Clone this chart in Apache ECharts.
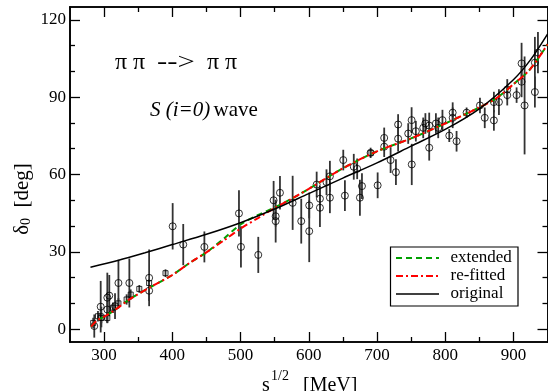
<!DOCTYPE html>
<html><head><meta charset="utf-8">
<script src="https://cdn.jsdelivr.net/npm/echarts@6/dist/echarts.min.js"></script>
<style>html,body{margin:0;padding:0;background:#fff}#c{width:548px;height:391px}</style>
</head><body><div id="c"></div>
<script>
// ---- tick values ----
const xMajorTicks = [300,400,500,600,700,800,900];
const xMinorTicks = [350,450,550,650,750,850];
const yMajorTicks = [0,30,60,90,120];
const yMinorTicks = [10,20,40,50,70,80,100,110];

// ---- curves ----
const origX = [280,320,360,400,450,500,550,600,650,700,750,800,850,900,925,950];
const origY = [24.0,26.6,29.6,32.8,36.8,41.3,46.6,52.6,58.6,64.5,71.0,77.5,85.5,96.8,104.5,114.5];
const refitX = [281,290,300,315,340,370,400,425,450,475,500,525,550,575,600,650,700,750,800,850,875,900,925,950];
const refitY = [1.0,3.4,4.8,7.3,12.0,16.6,21.0,25.6,29.8,34.3,39.0,43.0,47.0,50.6,54.4,62.4,69.0,74.0,79.8,86.0,89.6,95.0,101.0,110.5];
const extX = [281,290,300,315,340,370,400,425,450,475,500,525,550,575,600,650,700,750,800,850,875,900,925,950];
const extY = [1.0,3.4,4.8,7.3,12.0,16.6,21.0,25.6,29.8,35.0,40.6,44.2,47.2,50.6,54.4,62.4,69.0,74.0,79.8,86.0,89.6,95.0,101.0,110.5];

// ---- data points (circles) ----
const circX = [285.6,295,296,304.7,304.7,307.6,316,321,337,366,366,400.5,416,447,497.7,500.6,526,548.5,551.5,551.5,557.8,576.4,589,600.7,600.7,611.6,616.4,616.4,626,631,631,650.6,653,666,671,675,678,690.7,701,710.6,710.6,720,727.8,731,731,745.8,750.8,751,757,767.8,771,776.6,776.6,786.4,789.8,796,806,811,811,816.7,831.4,851,858,871.4,871.4,878.8,891,891,904.7,912,912,916.4,931.5,931.5,936];
const circY = [1.2,8.7,4.7,12.2,7.6,13.0,8.9,17.9,17.9,19.9,14.9,39.9,32.8,31.9,44.9,31.9,28.8,50.0,43.8,41.9,52.9,49.0,41.9,48.0,38.0,56.1,50.6,47.1,57.0,59.3,51.0,65.6,51.8,63.0,62.2,51.0,55.5,68.4,55.8,74.2,70.8,65.6,60.9,79.4,73.9,75.9,81.1,63.9,76.8,78.1,79.8,79.0,70.4,79.8,78.1,81.1,75.1,84.0,82.0,72.9,84.0,86.8,82.0,88.1,81.0,88.1,93.0,90.8,90.8,103.1,96.0,86.8,103.4,92.0,107.3];
const circErr = [4.5,10,4,9.7,5,8,5,9,9.5,11,4,9,8,6,9,8,7,7.5,4,8.3,6.5,10.5,8.7,5,12,5,5,7.5,5,6,6,4,6,5,4,7,5,2,5,4,4,5,5,4,5,4,5,8,4,4,4,5,5,4,4,4,2.5,4,4,4,2,3,4,4,4,5,4,4,3,8,6,19,10,6,8];

// ---- data points (squares) ----
const sqX = [284,291,296,304.7,313,321,333,339,351.6,366,390,690.7];
const sqY = [2.4,5.0,4.3,4.3,8.3,10.0,11.5,13.4,15.6,17.9,21.7,68.4];
const sqErr = [2,2,2,2,2,2,2,2,1.5,1.5,1.5,1];

const FONT = 'Liberation Serif';
const chart = echarts.init(document.getElementById('c'));

function xAx(pos, vals, len, showLabel) {
  return {type:'value', position:pos, min:250, max:950,
    axisLine:{show:true, onZero:false, lineStyle:{color:'#000', width:1.6}},
    axisTick:{show:true, inside:true, length:len, customValues:vals, lineStyle:{color:'#000', width:1.3}},
    axisLabel:{show:showLabel, customValues:vals, margin:5, color:'#000', fontFamily:FONT, fontSize:17},
    splitLine:{show:false}};
}
function yAx(pos, vals, len, showLabel) {
  return {type:'value', position:pos, min:-5, max:125,
    axisLine:{show:true, onZero:false, lineStyle:{color:'#000', width:1.6}},
    axisTick:{show:true, inside:true, length:len, customValues:vals, lineStyle:{color:'#000', width:1.3}},
    axisLabel:{show:showLabel, customValues:vals, margin:4, color:'#000', fontFamily:FONT, fontSize:17},
    splitLine:{show:false}};
}

function errBar(params, api) {
  const x = api.value(0), y = api.value(1), e = api.value(2);
  const p1 = api.coord([x, y - e]), p2 = api.coord([x, y + e]);
  return {type:'line', shape:{x1:p1[0], y1:p1[1], x2:p2[0], y2:p2[1]}, style:{stroke:'#333', lineWidth:1.8}};
}

const circErrData = circX.map((x,i)=>[x, circY[i], circErr[i]]);
const sqErrData = sqX.map((x,i)=>[x, sqY[i], sqErr[i]]);

chart.setOption({
  animation:false,
  backgroundColor:'#fff',
  grid:{left:70, top:7, width:477.5, height:335, containLabel:false},
  xAxis:[xAx('bottom', xMajorTicks, 10, true), xAx('bottom', xMinorTicks, 5, false),
         xAx('top', xMajorTicks, 10, false), xAx('top', xMinorTicks, 5, false)],
  yAxis:[yAx('left', yMajorTicks, 10, true), yAx('left', yMinorTicks, 5, false),
         yAx('right', yMajorTicks, 10, false), yAx('right', yMinorTicks, 5, false)],
  series:[
    {type:'custom', renderItem:errBar, data:circErrData, encode:{x:0, y:1}, silent:true, z:2},
    {type:'custom', renderItem:errBar, data:sqErrData, encode:{x:0, y:1}, silent:true, z:2},
    {type:'scatter', data:circX.map((x,i)=>[x, circY[i]]), symbol:'circle', symbolSize:7,
     itemStyle:{color:'rgba(0,0,0,0)', borderColor:'#000', borderWidth:1}, z:3},
    {type:'scatter', data:sqX.map((x,i)=>[x, sqY[i]]), symbol:'rect', symbolSize:5,
     itemStyle:{color:'rgba(0,0,0,0)', borderColor:'#000', borderWidth:1}, z:3},
    {name:'extended', type:'line', data:extX.map((x,i)=>[x, extY[i]]), showSymbol:false, symbol:'none', smooth:0.3,
     lineStyle:{color:'#00a000', width:2, type:[6,4]}, z:4},
    {name:'re-fitted', type:'line', data:refitX.map((x,i)=>[x, refitY[i]]), showSymbol:false, symbol:'none', smooth:0.3,
     lineStyle:{color:'#ff0000', width:2, type:[7,3,2,3]}, z:5},
    {name:'original', type:'line', data:origX.map((x,i)=>[x, origY[i]]), showSymbol:false, symbol:'none', smooth:0.3,
     lineStyle:{color:'#000', width:1.5}, z:6}
  ],
  graphic:[
    {type:'text', x:115, y:63, style:{text:'π π', font:'24px "Liberation Serif"', fill:'#000', verticalAlign:'middle'}},
    {type:'text', x:157, y:63, scaleX:1.28, style:{text:'-->', font:'24px "Liberation Serif"', fill:'#000', verticalAlign:'middle'}},
    {type:'text', x:207, y:63, style:{text:'π π', font:'24px "Liberation Serif"', fill:'#000', verticalAlign:'middle'}},
    {type:'text', x:150, y:110, style:{text:'{i|S (i=0)} {n|wave}', fill:'#000', verticalAlign:'middle',
      rich:{i:{fontFamily:FONT, fontStyle:'italic', fontSize:21}, n:{fontFamily:FONT, fontSize:21}}}},
    // legend
    {type:'rect', shape:{x:390.5, y:247, width:127.5, height:59}, style:{fill:'#fff', stroke:'#000', lineWidth:1.2}, z:10},
    {type:'line', shape:{x1:396, y1:258, x2:439, y2:258}, style:{stroke:'#00a000', lineWidth:2, lineDash:[6,4]}, z:11},
    {type:'line', shape:{x1:396, y1:276, x2:439, y2:276}, style:{stroke:'#ff0000', lineWidth:2, lineDash:[7,3,2,3]}, z:11},
    {type:'line', shape:{x1:396, y1:294, x2:439, y2:294}, style:{stroke:'#000', lineWidth:1.5}, z:11},
    {type:'text', x:450.5, y:258, style:{text:'extended', font:'17px "Liberation Serif"', fill:'#000', verticalAlign:'middle'}, z:11},
    {type:'text', x:450.5, y:276, style:{text:'re-fitted', font:'17px "Liberation Serif"', fill:'#000', verticalAlign:'middle'}, z:11},
    {type:'text', x:450.5, y:294, style:{text:'original', font:'17px "Liberation Serif"', fill:'#000', verticalAlign:'middle'}, z:11},
    // x axis title
    {type:'text', x:262, y:386, style:{text:'s', font:'20px "Liberation Serif"', fill:'#000', verticalAlign:'middle'}},
    {type:'text', x:271, y:376.5, style:{text:'1/2', font:'14px "Liberation Serif"', fill:'#000', verticalAlign:'middle'}},
    {type:'text', x:303, y:386, style:{text:'[MeV]', font:'20px "Liberation Serif"', fill:'#000', verticalAlign:'middle'}},
    // y axis title
    {type:'text', x:22, y:199, rotation:Math.PI/2, style:{text:'{m|δ}{s|0}{m|  [deg]}', fill:'#000', align:'center', verticalAlign:'middle',
      rich:{m:{fontFamily:FONT, fontSize:21, lineHeight:22}, s:{fontFamily:FONT, fontSize:14, verticalAlign:'bottom', lineHeight:14}}}}
  ]
});
</script></body></html>
